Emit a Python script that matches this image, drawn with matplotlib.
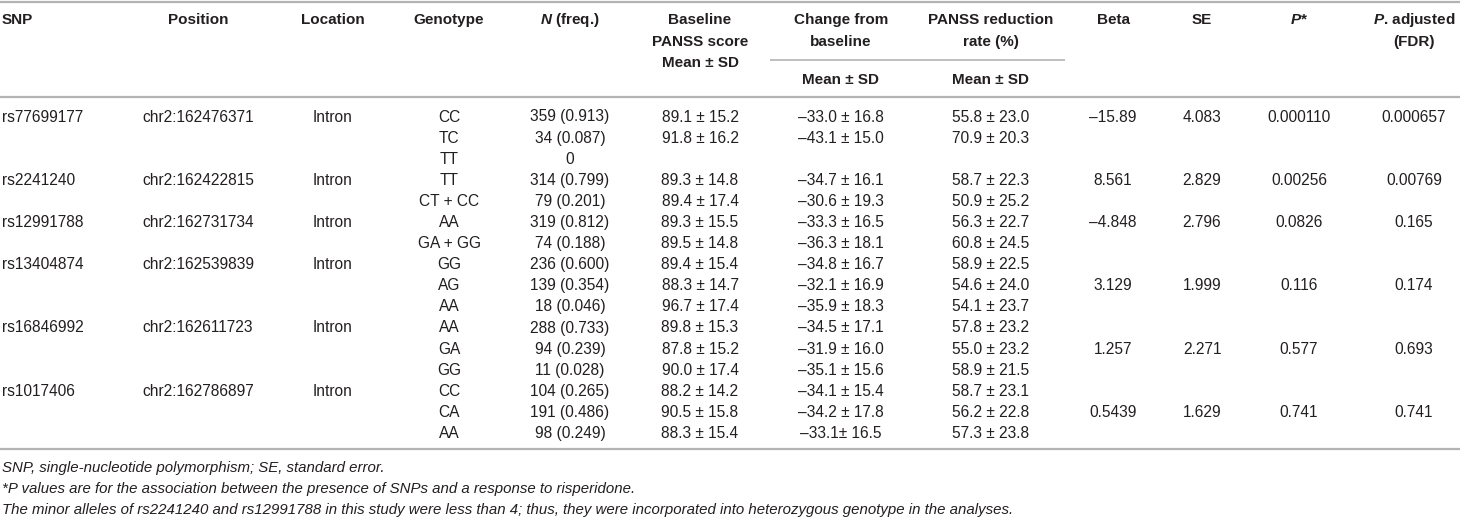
import matplotlib
matplotlib.use("Agg")
import matplotlib.pyplot as plt

plt.rcParams["font.family"] = ["Liberation Sans", "DejaVu Sans"]
plt.rcParams["mathtext.fontset"] = "custom"
plt.rcParams["mathtext.rm"] = "Liberation Sans"
plt.rcParams["mathtext.it"] = "Liberation Sans:italic"
plt.rcParams["mathtext.bf"] = "Liberation Sans:bold"
plt.rcParams["mathtext.bfit"] = "Liberation Sans:italic:bold"

# table data
snps = ["rs77699177", "rs2241240", "rs12991788", "rs13404874", "rs16846992", "rs1017406"]
positions = ["chr2:162476371", "chr2:162422815", "chr2:162731734",
             "chr2:162539839", "chr2:162611723", "chr2:162786897"]
locations = ["Intron"] * 6
genotypes = [["CC", "TC", "TT"], ["TT", "CT + CC"], ["AA", "GA + GG"],
             ["GG", "AG", "AA"], ["AA", "GA", "GG"], ["CC", "CA", "AA"]]
n_freq = [["359 (0.913)", "34 (0.087)", "0"], ["314 (0.799)", "79 (0.201)"],
          ["319 (0.812)", "74 (0.188)"], ["236 (0.600)", "139 (0.354)", "18 (0.046)"],
          ["288 (0.733)", "94 (0.239)", "11 (0.028)"],
          ["104 (0.265)", "191 (0.486)", "98 (0.249)"]]
baseline = [["89.1 ± 15.2", "91.8 ± 16.2", ""], ["89.3 ± 14.8", "89.4 ± 17.4"],
            ["89.3 ± 15.5", "89.5 ± 14.8"], ["89.4 ± 15.4", "88.3 ± 14.7", "96.7 ± 17.4"],
            ["89.8 ± 15.3", "87.8 ± 15.2", "90.0 ± 17.4"],
            ["88.2 ± 14.2", "90.5 ± 15.8", "88.3 ± 15.4"]]
change = [["–33.0 ± 16.8", "–43.1 ± 15.0", ""], ["–34.7 ± 16.1", "–30.6 ± 19.3"],
          ["–33.3 ± 16.5", "–36.3 ± 18.1"], ["–34.8 ± 16.7", "–32.1 ± 16.9", "–35.9 ± 18.3"],
          ["–34.5 ± 17.1", "–31.9 ± 16.0", "–35.1 ± 15.6"],
          ["–34.1 ± 15.4", "–34.2 ± 17.8", "–33.1± 16.5"]]
reduction = [["55.8 ± 23.0", "70.9 ± 20.3", ""], ["58.7 ± 22.3", "50.9 ± 25.2"],
             ["56.3 ± 22.7", "60.8 ± 24.5"], ["58.9 ± 22.5", "54.6 ± 24.0", "54.1 ± 23.7"],
             ["57.8 ± 23.2", "55.0 ± 23.2", "58.9 ± 21.5"],
             ["58.7 ± 23.1", "56.2 ± 22.8", "57.3 ± 23.8"]]
beta = ["–15.89", "8.561", "–4.848", "3.129", "1.257", "0.5439"]
se = ["4.083", "2.829", "2.796", "1.999", "2.271", "1.629"]
p_val = ["0.000110", "0.00256", "0.0826", "0.116", "0.577", "0.741"]
p_adj = ["0.000657", "0.00769", "0.165", "0.174", "0.693", "0.741"]
stat_row = [0, 0, 0, 1, 1, 1]  # row within group where stats sit

footnotes = [
    "SNP, single-nucleotide polymorphism; SE, standard error.",
    "*P values are for the association between the presence of SNPs and a response to risperidone.",
    "The minor alleles of rs2241240 and rs12991788 in this study were less than 4; thus, "
    "they were incorporated into heterozygous genotype in the analyses.",
]

W, H = 1460, 519
fig = plt.figure(figsize=(W / 100, H / 100), dpi=100)
ax = fig.add_axes([0, 0, 1, 1])
ax.set_xlim(0, W)
ax.set_ylim(H, 0)
ax.axis("off")

txt = "#231f20"
line_c = "#b3b3b3"
fs = 11.2
hfs = 11.0

# column x positions
x_snp, x_pos, x_loc, x_gen, x_n = 2, 198, 333, 449, 570
x_base, x_chg, x_red = 700, 841, 991
x_beta, x_se, x_p, x_padj = 1113, 1202, 1299, 1414

# rules
ax.hlines(1.5, 0, W, color=line_c, lw=1.6)
ax.hlines(60, 770, 1065, color=line_c, lw=1.2)
ax.hlines(97, 0, W, color=line_c, lw=1.6)
ax.hlines(449, 0, W, color=line_c, lw=1.6)

# header
hk = dict(fontsize=hfs, fontweight="bold", color=txt, va="center")
ax.text(x_snp, 20, "SNP", ha="left", **hk)
ax.text(x_pos, 20, "Position", ha="center", **hk)
ax.text(x_loc, 20, "Location", ha="center", **hk)
ax.text(x_gen, 20, "Genotype", ha="center", **hk)
ax.text(x_n, 20, r"$\mathbfit{N}$ (freq.)", ha="center", **hk)
ax.text(x_base, 20, "Baseline", ha="center", **hk)
ax.text(x_base, 42, "PANSS score", ha="center", **hk)
ax.text(x_base, 63, "Mean ± SD", ha="center", **hk)
ax.text(x_chg, 20, "Change from", ha="center", **hk)
ax.text(x_chg, 42, "baseline", ha="center", **hk)
ax.text(x_chg, 80, "Mean ± SD", ha="center", **hk)
ax.text(x_red, 20, "PANSS reduction", ha="center", **hk)
ax.text(x_red, 42, "rate (%)", ha="center", **hk)
ax.text(x_red, 80, "Mean ± SD", ha="center", **hk)
ax.text(x_beta, 20, "Beta", ha="center", **hk)
ax.text(x_se, 20, "SE", ha="center", **hk)
ax.text(x_p, 20, r"$\mathbfit{P}$*", ha="center", **hk)
ax.text(x_padj, 20, r"$\mathbfit{P}$. adjusted", ha="center", **hk)
ax.text(x_padj, 42, "(FDR)", ha="center", **hk)

# body
bk = dict(fontsize=fs, color=txt, va="center")
y0, dy = 117, 21.1
row = 0
for g in range(len(snps)):
    y_first = y0 + row * dy
    ax.text(x_snp, y_first, snps[g], ha="left", **bk)
    ax.text(x_pos, y_first, positions[g], ha="center", **bk)
    ax.text(x_loc, y_first, locations[g], ha="center", **bk)
    for k in range(len(genotypes[g])):
        y = y0 + (row + k) * dy
        ax.text(x_gen, y, genotypes[g][k], ha="center", **bk)
        ax.text(x_n, y, n_freq[g][k], ha="center", **bk)
        ax.text(x_base, y, baseline[g][k], ha="center", **bk)
        ax.text(x_chg, y, change[g][k], ha="center", **bk)
        ax.text(x_red, y, reduction[g][k], ha="center", **bk)
    ys = y0 + (row + stat_row[g]) * dy
    ax.text(x_beta, ys, beta[g], ha="center", **bk)
    ax.text(x_se, ys, se[g], ha="center", **bk)
    ax.text(x_p, ys, p_val[g], ha="center", **bk)
    ax.text(x_padj, ys, p_adj[g], ha="center", **bk)
    row += len(genotypes[g])

# footnotes
for i, note in enumerate(footnotes):
    ax.text(2, 468 + i * 21, note, fontsize=10.8, style="italic", color=txt,
            ha="left", va="center")

fig.savefig("out.png", dpi=100)
